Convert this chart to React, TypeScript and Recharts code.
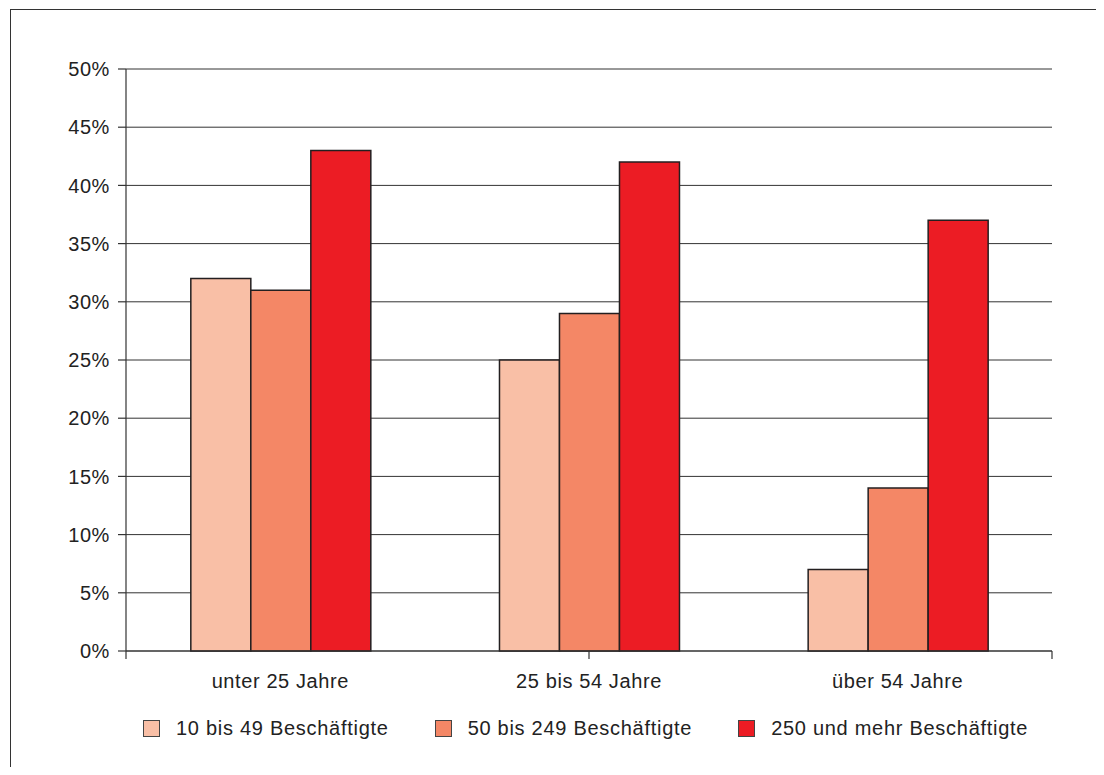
import React from 'react';
import { BarChart, Bar, XAxis, YAxis, CartesianGrid } from 'recharts';

const ageGroups = ['unter 25 Jahre', '25 bis 54 Jahre', 'über 54 Jahre'];
const small = [32, 25, 7];
const medium = [31, 29, 14];
const large = [43, 42, 37];
const seriesNames = ['10 bis 49 Beschäftigte', '50 bis 249 Beschäftigte', '250 und mehr Beschäftigte'];
const yTicks = [0, 5, 10, 15, 20, 25, 30, 35, 40, 45, 50];
const edgeTicks = [0, 1, 2, 3];

const colors = ['#f9bfa6', '#f48766', '#ec1c24'];
const line = '#333';
const barStroke = '#231f20';
const textColor = '#222';

const data = ageGroups.map((g, i) => ({ group: g, small: small[i], medium: medium[i], large: large[i] }));
const keys = ['small', 'medium', 'large'];

const tickStyle = { fill: textColor, fontSize: 20, letterSpacing: 0.6 };

const App: React.FC = () => {
  return (
    <div style={{ position: 'relative', width: 1088, height: 759, overflow: 'hidden', fontFamily: '"Liberation Sans", Arial, sans-serif' }}>
      {/* outer frame, only left and top edges are visible */}
      <div style={{ position: 'absolute', left: 2, top: 1, width: 1200, height: 900, borderLeft: `1.5px solid ${line}`, borderTop: `1.5px solid ${line}` }} />
      <div style={{ position: 'absolute', left: 0, top: 0 }}>
        <BarChart
          width={1088}
          height={759}
          data={data}
          margin={{ top: 61, right: 44, left: 0, bottom: 68 }}
          barCategoryGap="21%"
          barGap={0}
        >
          <CartesianGrid vertical={false} stroke={line} strokeWidth={1} yAxisId="left" />
          <XAxis
            xAxisId="cat"
            dataKey="group"
            axisLine={false}
            tickLine={false}
            tickSize={0}
            tickMargin={15}
            height={40}
            tick={tickStyle}
            interval={0}
          />
          {/* second axis only for the tick marks between the groups */}
          <XAxis
            xAxisId="axEdge"
            type="number"
            domain={[0, 3]}
            ticks={edgeTicks}
            tick={() => <g />}
            tickSize={8}
            height={8}
            axisLine={{ stroke: line, strokeWidth: 1.2 }}
            tickLine={{ stroke: line, strokeWidth: 1.2 }}
            allowDataOverflow
          />
          <YAxis
            yAxisId="left"
            domain={[0, 50]}
            ticks={yTicks}
            tickFormatter={(v) => `${v}%`}
            width={118}
            tickSize={8}
            tickMargin={8}
            axisLine={{ stroke: line, strokeWidth: 1.2 }}
            tickLine={{ stroke: line, strokeWidth: 1.2 }}
            tick={tickStyle}
          />
          <YAxis
            yAxisId="right"
            orientation="right"
            domain={[0, 50]}
            width={0}
            tick={false}
            tickLine={false}
            axisLine={{ stroke: line, strokeWidth: 1.2 }}
          />
          {keys.map((k, i) => (
            <Bar
              key={k}
              dataKey={k}
              name={seriesNames[i]}
              xAxisId="cat"
              yAxisId="left"
              fill={colors[i]}
              stroke={barStroke}
              strokeWidth={1.5}
              isAnimationActive={false}
            />
          ))}
        </BarChart>
      </div>
      {/* legend */}
      <div style={{ position: 'absolute', left: 135, top: 712, display: 'flex', alignItems: 'center', gap: 46, color: textColor, fontSize: 20, letterSpacing: 0.72 }}>
        {seriesNames.map((n, i) => (
          <div key={n} style={{ display: 'flex', alignItems: 'center', gap: 16 }}>
            <div style={{ width: 15, height: 15, background: colors[i], border: '1px solid #444' }} />
            <span style={{ lineHeight: '17px' }}>{n}</span>
          </div>
        ))}
      </div>
    </div>
  );
};

export default App;
